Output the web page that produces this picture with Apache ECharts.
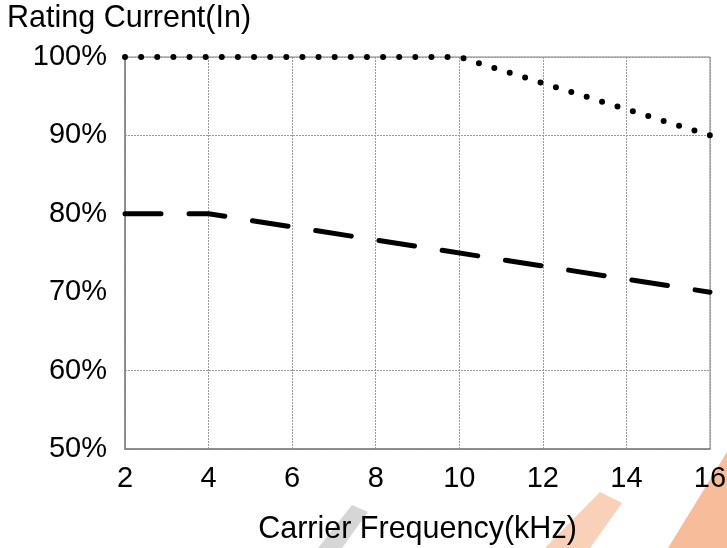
<!DOCTYPE html>
<html>
<head>
<meta charset="utf-8">
<script src="https://cdn.jsdelivr.net/npm/echarts@6/dist/echarts.min.js"></script>
<style>
  html, body { margin: 0; padding: 0; background: #fff; }
  #chart { width: 727px; height: 548px; }
</style>
</head>
<body>
<div id="chart"></div>
<script>
// derating curves: rated current (%) vs carrier frequency (kHz)
const freqTicks = [2, 4, 6, 8, 10, 12, 14, 16]
const ratingTicks = [50, 60, 70, 80, 90, 100]

// dotted curve breakpoints
const dottedFreq = [2, 10, 16]
const dottedRating = [100, 100, 90]

// dashed curve breakpoints
const dashedFreq = [2, 4, 16]
const dashedRating = [80, 80, 70]

const font = '"Liberation Sans", Arial, sans-serif'
const gridGray = '#9a9a9a'

const chart = echarts.init(document.getElementById('chart'), null, { renderer: 'canvas' })

// faint watermark fragments seen along the bottom edge of the scan
const stain = (pts, c) => ({
  type: 'polygon', silent: true, z: -10,
  shape: { points: pts },
  style: { fill: c },
})

chart.setOption({
  backgroundColor: '#fff',
  animation: false,
  graphic: [
    stain([[545, 548], [600, 492], [622, 503], [590, 548]], 'rgba(244,170,125,0.55)'),
    stain([[668, 548], [727, 452], [727, 548]], 'rgba(244,160,110,0.7)'),
    stain([[318, 548], [352, 505], [368, 512], [342, 548]], 'rgba(120,120,120,0.3)'),
  ],
  title: {
    text: 'Rating Current(In)',
    left: 2,
    top: -2,
    textStyle: { fontFamily: font, fontSize: 30.5, fontWeight: 'normal', color: '#000' },
  },
  grid: {
    left: 125, right: 17, top: 57, bottom: 99,
    outerBoundsMode: 'none', containLabel: false,
    show: true, borderColor: '#808080', borderWidth: 1,
  },
  xAxis: {
    type: 'value',
    min: freqTicks[0],
    max: freqTicks[freqTicks.length - 1],
    interval: 2,
    name: 'Carrier Frequency(kHz)',
    nameLocation: 'middle',
    nameGap: 65,
    nameTextStyle: { fontFamily: font, fontSize: 30.5, color: '#000' },
    axisLine: { lineStyle: { color: '#808080', width: 1.5 } },
    axisTick: { show: false },
    axisLabel: { fontFamily: font, fontSize: 29, color: '#000', margin: 15 },
    splitLine: { lineStyle: { color: gridGray, type: [2, 1], width: 1 } },
  },
  yAxis: {
    type: 'value',
    min: ratingTicks[0],
    max: ratingTicks[ratingTicks.length - 1],
    interval: 10,
    axisLine: { show: true, lineStyle: { color: '#808080', width: 1.5 } },
    axisTick: { show: false },
    axisLabel: { fontFamily: font, fontSize: 29, color: '#000', margin: 18, formatter: '{value}%' },
    // no gridline drawn at 70% and 80% in the original
    splitLine: {
      lineStyle: {
        color: [gridGray, gridGray, 'rgba(0,0,0,0)', 'rgba(0,0,0,0)', gridGray, gridGray],
        type: [2, 1], width: 1,
      },
    },
  },
  series: [
    {
      name: 'dotted',
      type: 'line',
      data: dottedFreq.map((f, i) => [f, dottedRating[i]]),
      showSymbol: false,
      clip: false,
      lineStyle: { color: '#000', width: 6, type: [0, 16.13], cap: 'round' },
    },
    {
      name: 'dashed',
      type: 'line',
      data: dashedFreq.map((f, i) => [f, dashedRating[i]]),
      showSymbol: false,
      clip: false,
      lineStyle: { color: '#000', width: 5, type: [36, 28], cap: 'round' },
    },
  ],
})
</script>
</body>
</html>
